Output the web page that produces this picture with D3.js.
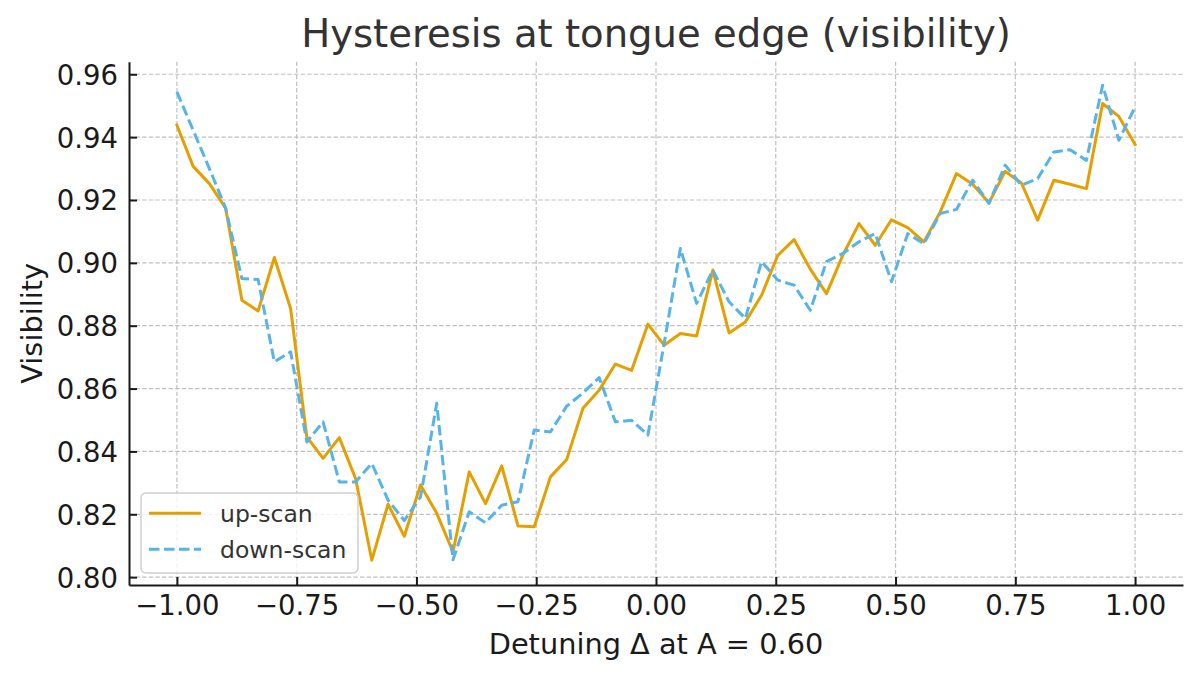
<!DOCTYPE html>
<html>
<head>
<meta charset="utf-8">
<script src="https://cdn.jsdelivr.net/npm/d3@7"></script>
<style>
  html, body { margin: 0; padding: 0; background: #fff; }
  svg { display: block; font-family: "DejaVu Sans", sans-serif; }
</style>
</head>
<body>
<svg id="chart" width="1200" height="678"></svg>
<script>
// ---- data ----
const nPoints = 60;
const detuning = d3.range(nPoints).map(i => -1 + 2 * i / (nPoints - 1));
const upScan = [
  0.9438, 0.9307, 0.9252, 0.9174, 0.8881, 0.8847, 0.9017, 0.8855, 0.8446, 0.8378,
  0.8444, 0.8314, 0.8054, 0.8232, 0.8130, 0.8293, 0.8203, 0.8080, 0.8335, 0.8234,
  0.8354, 0.8163, 0.8160, 0.8319, 0.8374, 0.8537, 0.8595, 0.8678, 0.8658, 0.8805,
  0.8738, 0.8775, 0.8767, 0.8977, 0.8777, 0.8812, 0.8897, 0.9024, 0.9074, 0.8980,
  0.8902, 0.9024, 0.9125, 0.9056, 0.9137, 0.9112, 0.9067, 0.9162, 0.9284, 0.9250,
  0.9191, 0.9291, 0.9254, 0.9136, 0.9263, 0.9250, 0.9236, 0.9507, 0.9466, 0.9377
];
const downScan = [
  0.9544, 0.9422, 0.9300, 0.9174, 0.8950, 0.8947, 0.8685, 0.8717, 0.8430, 0.8494,
  0.8303, 0.8303, 0.8362, 0.8245, 0.8180, 0.8255, 0.8553, 0.8055, 0.8208, 0.8173,
  0.8229, 0.8240, 0.8468, 0.8462, 0.8544, 0.8586, 0.8635, 0.8494, 0.8499, 0.8452,
  0.8743, 0.9046, 0.8871, 0.8977, 0.8876, 0.8823, 0.9004, 0.8945, 0.8929, 0.8849,
  0.9004, 0.9030, 0.9067, 0.9093, 0.8940, 0.9093, 0.9061, 0.9157, 0.9170, 0.9263,
  0.9189, 0.9311, 0.9247, 0.9268, 0.9353, 0.9360, 0.9326, 0.9565, 0.9390, 0.9496
];
const seriesNames = ["up-scan", "down-scan"];
const xTicks = [-1.0, -0.75, -0.5, -0.25, 0.0, 0.25, 0.5, 0.75, 1.0];
const yTicks = [0.80, 0.82, 0.84, 0.86, 0.88, 0.90, 0.92, 0.94, 0.96];
const titleText = "Hysteresis at tongue edge (visibility)";
const xLabelText = "Detuning Δ at A = 0.60";
const yLabelText = "Visibility";

// ---- layout ----
const plot = { left: 129, right: 1183, top: 61.7, bottom: 585 };
const colors = ["#E69F00", "#56B4E9"];
const lineW = 3.0;
const dashPat = "10.5,4.5";

const svg = d3.select("#chart");
const x = d3.scaleLinear().domain([-1.1, 1.1]).range([plot.left, plot.right]);
const y = d3.scaleLinear().domain([0.7975, 0.964]).range([plot.bottom, plot.top]);

const fmtMinus = s => s.replace("-", "\u2212");

// grid
const grid = svg.append("g").attr("class", "grid");
grid.selectAll("line.vx").data(xTicks).join("line")
  .attr("x1", d => x(d)).attr("x2", d => x(d))
  .attr("y1", plot.top).attr("y2", plot.bottom)
  .attr("stroke", "#c0c0c0").attr("stroke-width", 1.2)
  .attr("stroke-dasharray", "4.4,2.2");
grid.selectAll("line.hy").data(yTicks).join("line")
  .attr("x1", plot.left).attr("x2", plot.right)
  .attr("y1", d => y(d)).attr("y2", d => y(d))
  .attr("stroke", "#c0c0c0").attr("stroke-width", 1.2)
  .attr("stroke-dasharray", "4.4,2.2");

// lines
const line = d3.line().x((d, i) => x(detuning[i])).y(d => y(d));
svg.append("path").datum(upScan)
  .attr("d", line).attr("fill", "none")
  .attr("stroke", colors[0]).attr("stroke-width", lineW)
  .attr("stroke-linejoin", "round").attr("stroke-linecap", "square");
svg.append("path").datum(downScan)
  .attr("d", line).attr("fill", "none")
  .attr("stroke", colors[1]).attr("stroke-width", lineW)
  .attr("stroke-dasharray", dashPat)
  .attr("stroke-linejoin", "round");

// axes
const xAxis = d3.axisBottom(x).tickValues(xTicks)
  .tickFormat(d => fmtMinus(d3.format(".2f")(d)))
  .tickSizeInner(-8).tickSizeOuter(0).tickPadding(10.5);
const gx = svg.append("g").attr("transform", `translate(0,${plot.bottom})`).call(xAxis);
gx.select(".domain").attr("stroke", "#1a1a1a").attr("stroke-width", 2);
gx.selectAll(".tick line").attr("stroke", "#1a1a1a").attr("stroke-width", 2);
gx.selectAll(".tick text").attr("font-size", 27.5).attr("fill", "#1a1a1a")
  .attr("font-family", "DejaVu Sans").attr("dy", "0.71em");

const yAxis = d3.axisLeft(y).tickValues(yTicks)
  .tickFormat(d3.format(".2f"))
  .tickSizeInner(-8).tickSizeOuter(0).tickPadding(11);
const gy = svg.append("g").attr("transform", `translate(${plot.left},0)`).call(yAxis);
gy.select(".domain").attr("stroke", "#1a1a1a").attr("stroke-width", 2);
gy.selectAll(".tick line").attr("stroke", "#1a1a1a").attr("stroke-width", 2);
gy.selectAll(".tick text").attr("font-size", 27.5).attr("fill", "#1a1a1a")
  .attr("font-family", "DejaVu Sans").attr("dy", "0.36em");

// title & labels
svg.append("text").attr("x", (plot.left + plot.right) / 2).attr("y", 47.3)
  .attr("text-anchor", "middle").attr("font-size", 38.6).attr("fill", "#333")
  .text(titleText);
svg.append("text").attr("x", (plot.left + plot.right) / 2).attr("y", 654)
  .attr("text-anchor", "middle").attr("font-size", 28.8).attr("fill", "#1a1a1a")
  .text(xLabelText);
svg.append("text")
  .attr("transform", `translate(42,${(plot.top + plot.bottom) / 2}) rotate(-90)`)
  .attr("text-anchor", "middle").attr("font-size", 28.8).attr("fill", "#1a1a1a")
  .text(yLabelText);

// legend
const lg = svg.append("g");
lg.append("rect").attr("x", 141).attr("y", 493).attr("width", 217).attr("height", 80)
  .attr("rx", 5).attr("fill", "#fff").attr("fill-opacity", 0.8)
  .attr("stroke", "#d0d0d0").attr("stroke-width", 1.5);
seriesNames.forEach((name, i) => {
  const ly = 513.3 + i * 36;
  lg.append("line").attr("x1", 149).attr("x2", 201).attr("y1", ly).attr("y2", ly)
    .attr("stroke", colors[i]).attr("stroke-width", lineW)
    .attr("stroke-dasharray", i === 1 ? dashPat : null);
  lg.append("text").attr("x", 220).attr("y", ly).attr("dy", "0.36em")
    .attr("font-size", 23.5).attr("fill", "#333").text(name);
});
</script>
</body>
</html>
